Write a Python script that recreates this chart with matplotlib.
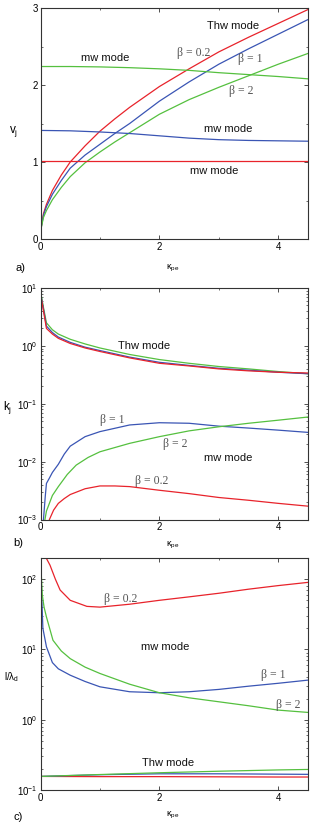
import matplotlib
matplotlib.use("Agg")
import matplotlib.pyplot as plt
import numpy as np
from matplotlib.ticker import MultipleLocator, LogLocator, NullFormatter

plt.rcParams['font.family'] = ['Liberation Sans', 'DejaVu Sans']
plt.rcParams['mathtext.fontset'] = 'custom'
plt.rcParams['mathtext.rm'] = 'Liberation Sans'
plt.rcParams['mathtext.it'] = 'Liberation Sans:italic'

RED = '#e8232b'
BLUE = '#3a55b4'
GREEN = '#55c03f'

# ---- panel a) v_j vs kappa_pe ----
xa_thw = [0, 0.05, 0.1, 0.2, 0.35, 0.5, 0.75, 1, 1.25, 1.5, 2, 2.5, 3, 3.5, 4, 4.5]
va_thw_b02 = [0.1, 0.33, 0.45, 0.63, 0.83, 1.0, 1.21, 1.4, 1.56, 1.71, 1.98, 2.21, 2.43, 2.62, 2.80, 2.98]
va_thw_b1 = [0.1, 0.31, 0.42, 0.58, 0.76, 0.92, 1.09, 1.23, 1.37, 1.50, 1.79, 2.04, 2.27, 2.47, 2.66, 2.85]
va_thw_b2 = [0.1, 0.28, 0.37, 0.51, 0.67, 0.81, 0.99, 1.13, 1.26, 1.38, 1.62, 1.81, 1.97, 2.12, 2.27, 2.41]
xa_mw = [0, 0.5, 1, 1.5, 2, 2.5, 3, 3.5, 4, 4.5]
va_mw_b02 = [1.01, 1.01, 1.01, 1.01, 1.01, 1.01, 1.01, 1.01, 1.01, 1.01]
va_mw_b1 = [1.41, 1.405, 1.39, 1.37, 1.34, 1.31, 1.29, 1.28, 1.275, 1.27]
va_mw_b2 = [2.24, 2.24, 2.235, 2.225, 2.21, 2.19, 2.16, 2.135, 2.11, 2.08]

# ---- panel b) k_j vs kappa_pe ----
xb_thw = [0, 0.05, 0.1, 0.2, 0.3, 0.5, 0.75, 1, 1.5, 2, 2.5, 3, 3.5, 4, 4.5]
kb_thw_b02 = [8.0, 4.0, 2.0, 1.6, 1.35, 1.1, 0.92, 0.80, 0.62, 0.50, 0.45, 0.40, 0.37, 0.35, 0.34]
kb_thw_b1 = [8.3, 4.3, 2.2, 1.7, 1.42, 1.15, 0.95, 0.83, 0.64, 0.52, 0.46, 0.41, 0.38, 0.35, 0.33]
kb_thw_b2 = [8.7, 4.6, 2.5, 1.9, 1.6, 1.3, 1.08, 0.92, 0.71, 0.58, 0.50, 0.44, 0.40, 0.36, 0.33]
xb_mw_b1 = [0.05, 0.08, 0.1, 0.15, 0.2, 0.3, 0.4, 0.5, 0.75, 1, 1.5, 2, 2.5, 3, 3.5, 4, 4.5]
kb_mw_b1 = [1e-3, 2.5e-3, 4.2e-3, 5.2e-3, 6.5e-3, 9e-3, 0.0135, 0.0185, 0.027, 0.033, 0.043,
            0.047, 0.046, 0.041, 0.038, 0.035, 0.032]
xb_mw_b2 = [0.075, 0.1, 0.2, 0.3, 0.45, 0.6, 0.8, 1, 1.5, 2, 2.5, 3, 3.5, 4, 4.5]
kb_mw_b2 = [1e-3, 1.4e-3, 2.6e-3, 3.7e-3, 6e-3, 8.7e-3, 0.0118, 0.0148, 0.0207, 0.027, 0.034,
            0.040, 0.046, 0.052, 0.059]
xb_mw_b02 = [0.15, 0.22, 0.3, 0.4, 0.5, 0.75, 1, 1.25, 1.5, 2, 2.5, 3, 3.5, 4, 4.5]
kb_mw_b02 = [1e-3, 1.45e-3, 1.9e-3, 2.3e-3, 2.7e-3, 3.4e-3, 3.8e-3, 3.8e-3, 3.7e-3, 3.2e-3,
             2.8e-3, 2.4e-3, 2.15e-3, 1.9e-3, 1.7e-3]

# ---- panel c) l/lambda_d vs kappa_pe ----
xc_mw_b02 = [0.07, 0.16, 0.25, 0.33, 0.5, 0.78, 1, 1.5, 2, 2.5, 3, 3.5, 4, 4.5]
lc_mw_b02 = [220, 158, 100, 70, 50, 41, 40, 44, 50, 56, 63, 72, 81, 90]
xc_mw_b1 = [0, 0.02, 0.04, 0.1, 0.2, 0.3, 0.5, 0.75, 1, 1.5, 2, 2.5, 3, 3.5, 4, 4.5]
lc_mw_b1 = [200, 60, 20, 10.9, 6.5, 5.3, 4.3, 3.5, 2.94, 2.5, 2.42, 2.5, 2.7, 3.0, 3.3, 3.66]
xc_mw_b2 = [0, 0.03, 0.06, 0.1, 0.21, 0.35, 0.5, 0.75, 1, 1.5, 2, 2.5, 3, 3.5, 4, 4.5]
lc_mw_b2 = [200, 60, 40, 29, 13.5, 9.5, 7.4, 5.6, 4.55, 3.2, 2.42, 2.05, 1.8, 1.58, 1.37, 1.27]
xc_thw = [0, 1, 2, 3, 4, 4.5]
lc_thw_b02 = [0.156, 0.155, 0.155, 0.154, 0.153, 0.153]
lc_thw_b1 = [0.156, 0.165, 0.170, 0.170, 0.168, 0.167]
lc_thw_b2 = [0.156, 0.166, 0.176, 0.185, 0.193, 0.196]

W, H = 323, 825
fig = plt.figure(figsize=(W / 100, H / 100), dpi=100)


def px_axes(l, t, r, b):
    return fig.add_axes([l / W, 1 - b / H, (r - l) / W, (b - t) / H])


def style(ax):
    for s in ax.spines.values():
        s.set_linewidth(0.8)
        s.set_color('#333333')
    ax.tick_params(which='both', direction='in', top=True, right=True,
                   labelsize=7, pad=2, color='#333333', labelcolor='black')
    ax.tick_params(which='major', length=3, width=0.6)
    ax.tick_params(which='minor', length=1.5, width=0.5)
    ax.set_xlim(0, 4.5)
    ax.xaxis.set_major_locator(MultipleLocator(2))
    ax.xaxis.set_minor_locator(MultipleLocator(1))


lw = 0.9
tkw = dict(fontsize=8, color='#111111')
bkw = dict(fontsize=8.5, color='#555555', family='Liberation Serif')

# a)
ax = px_axes(40.5, 8, 308, 239)
style(ax)
ax.plot(xa_thw, va_thw_b02, color=RED, lw=lw)
ax.plot(xa_thw, va_thw_b1, color=BLUE, lw=lw)
ax.plot(xa_thw, va_thw_b2, color=GREEN, lw=lw)
ax.plot(xa_mw, va_mw_b02, color=RED, lw=lw)
ax.plot(xa_mw, va_mw_b1, color=BLUE, lw=lw)
ax.plot(xa_mw, va_mw_b2, color=GREEN, lw=lw)
ax.set_ylim(0, 3)
ax.yaxis.set_major_locator(MultipleLocator(1))
ax.yaxis.set_minor_locator(MultipleLocator(0.5))
ax.text(3.24, 2.77, 'Thw mode', ha='center', va='center', **tkw)
ax.text(2.57, 2.41, 'β = 0.2', ha='center', va='center', **bkw)
ax.text(3.53, 2.34, 'β = 1', ha='center', va='center', **bkw)
ax.text(1.09, 2.35, 'mw mode', ha='center', va='center', **tkw)
ax.text(3.38, 1.92, 'β = 2', ha='center', va='center', **bkw)
ax.text(3.16, 1.43, 'mw mode', ha='center', va='center', **tkw)
ax.text(2.92, 0.88, 'mw mode', ha='center', va='center', **tkw)

# b)
ax = px_axes(40.5, 288, 308, 519.5)
style(ax)
ax.set_yscale('log')
ax.plot(xb_thw, kb_thw_b2, color=GREEN, lw=lw)
ax.plot(xb_thw, kb_thw_b1, color=BLUE, lw=lw)
ax.plot(xb_thw, kb_thw_b02, color=RED, lw=lw)
ax.plot(xb_mw_b1, kb_mw_b1, color=BLUE, lw=lw)
ax.plot(xb_mw_b2, kb_mw_b2, color=GREEN, lw=lw)
ax.plot(xb_mw_b02, kb_mw_b02, color=RED, lw=lw)
ax.set_ylim(1e-3, 1e1)
ax.yaxis.set_major_locator(LogLocator(base=10, numticks=10))
ax.yaxis.set_minor_locator(LogLocator(base=10, subs=np.arange(2, 10), numticks=20))
ax.yaxis.set_minor_formatter(NullFormatter())
ax.text(1.75, 1.0, 'Thw mode', ha='center', va='center', **tkw)
ax.text(1.2, 0.052, 'β = 1', ha='center', va='center', **bkw)
ax.text(2.26, 0.02, 'β = 2', ha='center', va='center', **bkw)
ax.text(3.16, 0.0117, 'mw mode', ha='center', va='center', **tkw)
ax.text(1.87, 4.7e-3, 'β = 0.2', ha='center', va='center', **bkw)

# c)
ax = px_axes(40.5, 558, 308, 790)
style(ax)
ax.set_yscale('log')
ax.plot(xc_mw_b02, lc_mw_b02, color=RED, lw=lw)
ax.plot(xc_mw_b1, lc_mw_b1, color=BLUE, lw=lw)
ax.plot(xc_mw_b2, lc_mw_b2, color=GREEN, lw=lw)
ax.plot(xc_thw, lc_thw_b02, color=RED, lw=lw)
ax.plot(xc_thw, lc_thw_b1, color=BLUE, lw=lw)
ax.plot(xc_thw, lc_thw_b2, color=GREEN, lw=lw)
ax.set_ylim(0.1, 200)
ax.yaxis.set_major_locator(LogLocator(base=10, numticks=10))
ax.yaxis.set_minor_locator(LogLocator(base=10, subs=np.arange(2, 10), numticks=20))
ax.yaxis.set_minor_formatter(NullFormatter())
ax.text(2.1, 10.7, 'mw mode', ha='center', va='center', **tkw)
ax.text(1.355, 53, 'β = 0.2', ha='center', va='center', **bkw)
ax.text(3.92, 4.3, 'β = 1', ha='center', va='center', **bkw)
ax.text(4.17, 1.6, 'β = 2', ha='center', va='center', **bkw)
ax.text(2.15, 0.244, 'Thw mode', ha='center', va='center', **tkw)

# axis labels and panel tags (figure pixel positions)
def ftxt(x, y, s, **kw):
    fig.text(x / W, 1 - y / H, s, ha='center', va='center', **kw)

ftxt(14, 132, r'$\mathregular{v_j}$', fontsize=8.5)
ftxt(173, 268, r'$\mathregular{\kappa_{pe}}$', fontsize=6.5)
ftxt(20, 268, 'a)', fontsize=8)
ftxt(8, 407, r'$\mathregular{k_j}$', fontsize=8.5)
ftxt(173, 545, r'$\mathregular{\kappa_{pe}}$', fontsize=6.5)
ftxt(18, 543, 'b)', fontsize=8)
ftxt(12, 677, r'$\mathregular{l/\lambda_d}$', fontsize=7)
ftxt(173, 815, r'$\mathregular{\kappa_{pe}}$', fontsize=6.5)
ftxt(18, 817, 'c)', fontsize=8)

fig.savefig('out.png', dpi=100)
